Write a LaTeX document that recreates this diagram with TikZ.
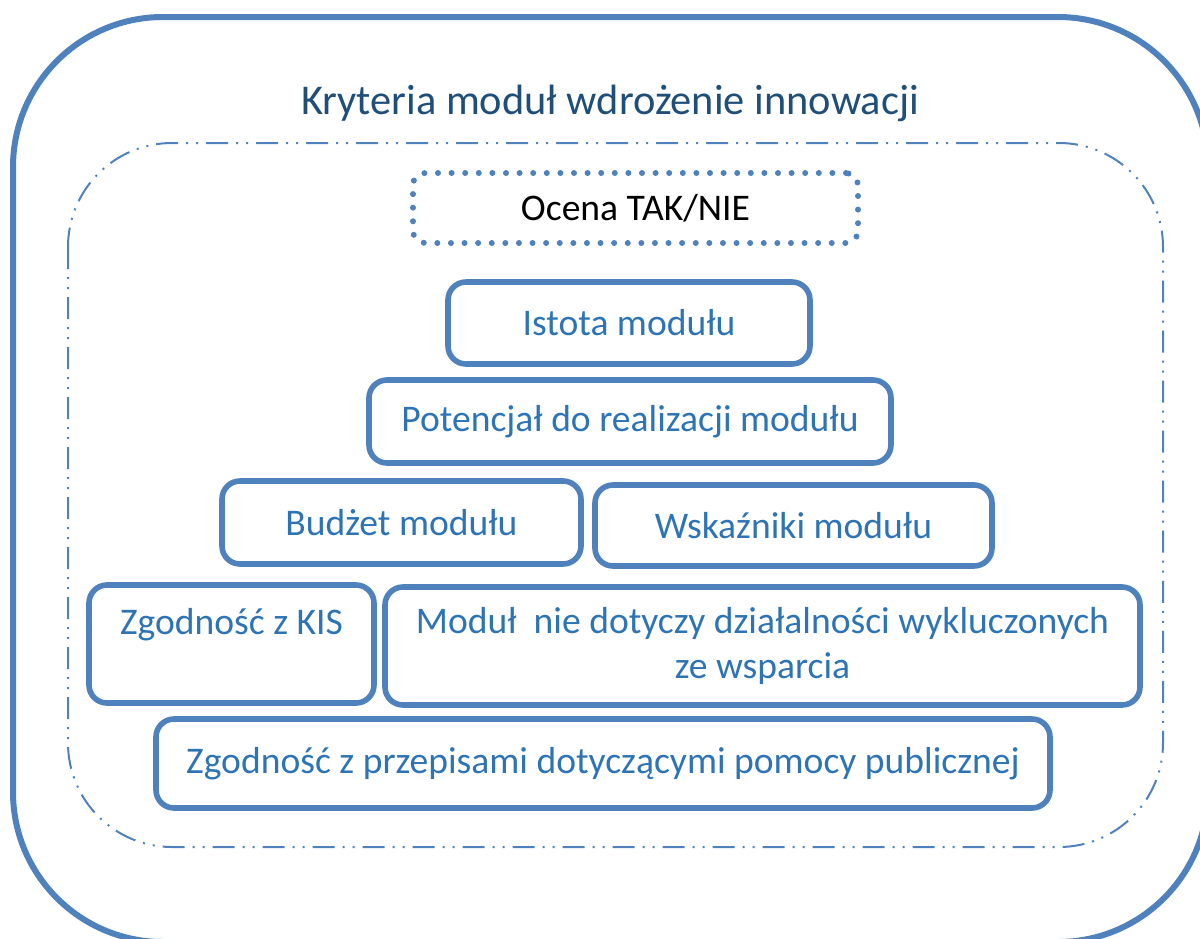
\documentclass[tikz,border=0pt]{standalone}
\usepackage{fontspec}
\setmainfont{Carlito}
\definecolor{rama}{HTML}{4F81BD}
\definecolor{tekst}{HTML}{2E74B5}
\definecolor{tytul}{HTML}{1F4E79}
\tikzset{
  kryterium/.style = {draw=rama, line width=2.8pt, rounded corners=9pt,
    text=tekst, align=center, inner sep=0pt,
    font=\fontsize{18.8}{22.5}\selectfont},
  ocena/.style = {draw=rama, line width=3pt, line cap=round,
    dash pattern=on 0pt off 6.8pt, rounded corners=6pt, inner sep=0pt,
    font=\fontsize{18.8}{22.5}\selectfont},
  ramka/.style = {draw=rama, line width=3pt, rounded corners=75pt},
  kreska/.style = {draw=rama, line width=1pt, rounded corners=52pt,
    dash pattern=on 11pt off 4pt on 1pt off 4pt on 1pt off 4pt}
}

\begin{document}
\begin{tikzpicture}[x=0.5pt, y=-0.5pt]
  \useasboundingbox (0,0) rectangle (1200,938);
  \clip (0,0) rectangle (1200,938);
  % ramki
  \draw[ramka] (13,17) rectangle (1208,942);
  \draw[kreska] (68,143) rectangle (1163,847);
  \node[text=tytul, font=\fontsize{21.2}{26}\selectfont] (tytul) at (610,103) {Kryteria moduł wdrożenie innowacji};
  \node[ocena, minimum width=222.5pt, minimum height=35pt] (ocena) at (635.5,208) {Ocena TAK/NIE};
  % kryteria
  \node[kryterium, minimum width=181pt, minimum height=41pt] (istota) at (629,323) {Istota modułu};
  \node[kryterium, minimum width=261pt, minimum height=41.5pt] (potencjal) at (630,421.5) {Potencjał do realizacji modułu};
  \node[kryterium, minimum width=179.5pt, minimum height=41.5pt] (budzet) at (401.5,522.5) {Budżet modułu};
  \node[kryterium, minimum width=198.5pt, minimum height=40.5pt] (wskazniki) at (793.5,525.5) {Wskaźniki modułu};
  \node[kryterium, minimum width=142.5pt, minimum height=59pt] (kis) at (231.5,644) {Zgodność z KIS\\\mbox{}};
  \node[kryterium, minimum width=377.5pt, minimum height=59pt] (wykluczone) at (762.5,646) {Moduł\ \ nie dotyczy działalności wykluczonych\\ze wsparcia};
  \node[kryterium, minimum width=447pt, minimum height=44.5pt] (pomoc) at (603,763.5) {Zgodność z przepisami dotyczącymi pomocy publicznej};
\end{tikzpicture}
\end{document}
